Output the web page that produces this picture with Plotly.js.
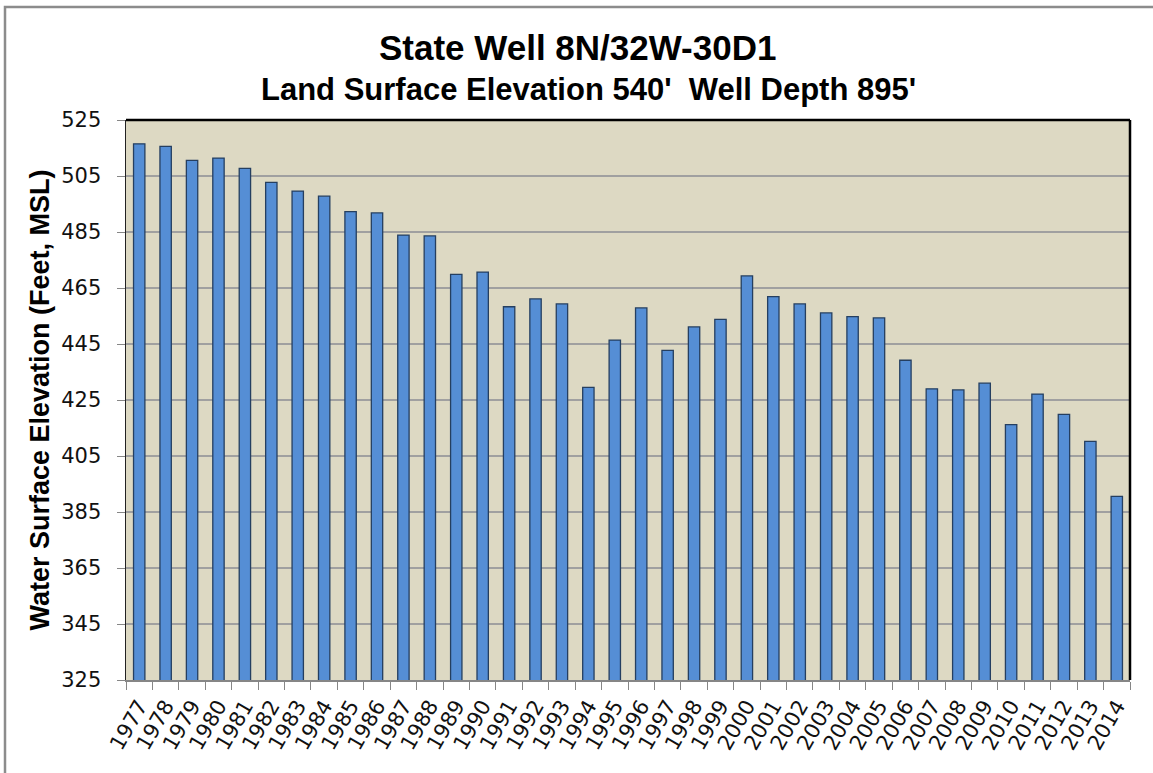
<!DOCTYPE html>
<html>
<head>
<meta charset="utf-8">
<script src="https://cdn.plot.ly/plotly-3.0.1.min.js"></script>
<style>
html,body{margin:0;padding:0;background:#fff;}
#chart{width:1153px;height:773px;}
</style>
</head>
<body>
<div id="chart"></div>
<script>
const years = ["1977","1978","1979","1980","1981","1982","1983","1984","1985","1986","1987","1988","1989","1990","1991","1992","1993","1994","1995","1996","1997","1998","1999","2000","2001","2002","2003","2004","2005","2006","2007","2008","2009","2010","2011","2012","2013","2014"];
const elevation = [516.5,515.6,510.6,511.4,507.7,502.7,499.6,497.8,492.3,491.8,483.9,483.6,469.9,470.7,458.3,461.1,459.3,429.5,446.4,457.9,442.7,451.1,453.8,469.3,461.9,459.3,456.1,454.8,454.3,439.2,429.0,428.6,431.0,416.2,427.1,419.9,410.2,390.6];
const yTicks = [325,345,365,385,405,425,445,465,485,505,525];
const titleText = "State Well 8N/32W-30D1";
const subtitleText = "Land Surface Elevation 540'  Well Depth 895'";
const yTitle = "Water Surface Elevation (Feet, MSL)";

const trace = {
  type: "bar",
  x: years,
  y: elevation,
  marker: {color: "#558ED5", line: {color: "#253F60", width: 1.3}},
  hoverinfo: "x+y"
};

const W = 1153, H = 773, ml = 126, mr = 23, mt = 120, mb = 93;
const pw = W - ml - mr, ph = H - mt - mb;

const layout = {
  width: W, height: H,
  margin: {l: ml, r: mr, t: mt, b: mb, pad: 0},
  paper_bgcolor: "#ffffff",
  plot_bgcolor: "#DDD9C3",
  bargap: 0.57,
  showlegend: false,
  font: {family: "DejaVu Sans, Verdana, sans-serif", color: "#000"},
  xaxis: {
    type: "category",
    tickson: "boundaries",
    ticks: "outside",
    ticklen: 8,
    tickcolor: "#868686",
    tickangle: -60,
    tickfont: {size: 21, family: "DejaVu Sans, sans-serif", color: "#111"},
    ticklabelstandoff: 4,
    showline: true, linecolor: "#868686", linewidth: 1.5,
    showgrid: false, zeroline: false
  },
  yaxis: {
    range: [325, 525],
    tickvals: yTicks,
    ticks: "outside",
    ticklen: 8,
    tickcolor: "#868686",
    tickfont: {size: 21, family: "DejaVu Sans, sans-serif", color: "#111"},
    ticklabelstandoff: 11,
    showline: true, linecolor: "#222", linewidth: 1.5,
    showgrid: true, gridcolor: "#A0A0A0", gridwidth: 1.3,
    zeroline: false,
    title: {text: yTitle, font: {size: 27, family: "Liberation Sans, Arial, sans-serif", weight: "bold"}, standoff: 4}
  },
  shapes: [
    {type: "line", xref: "paper", yref: "paper", x0: 0, x1: 1, y0: 1, y1: 1, line: {color: "#000", width: 2.5}},
    {type: "line", xref: "paper", yref: "paper", x0: 1, x1: 1, y0: 0, y1: 1, line: {color: "#000", width: 2.5}},
    {type: "rect", xref: "paper", yref: "paper",
     x0: (5 - ml) / pw, x1: (1170 - ml) / pw, y0: (H - mb - 790) / ph, y1: (H - mb - 7) / ph,
     line: {color: "#8C8C8C", width: 2.5}, fillcolor: "rgba(0,0,0,0)", layer: "below"}
  ],
  annotations: [
    {text: "<b>" + titleText + "</b>", xref: "paper", yref: "paper", x: (577 - ml) / pw, y: (H - mb - 47) / ph,
     showarrow: false, xanchor: "center", yanchor: "middle",
     font: {size: 35, family: "Liberation Sans, Arial, sans-serif", color: "#000"}},
    {text: "<b>" + subtitleText + "</b>", xref: "paper", yref: "paper", x: (588 - ml) / pw, y: (H - mb - 90) / ph,
     showarrow: false, xanchor: "center", yanchor: "middle",
     font: {size: 31, family: "Liberation Sans, Arial, sans-serif", color: "#000"}}
  ]
};

Plotly.newPlot("chart", [trace], layout, {displayModeBar: false, staticPlot: true});
</script>
</body>
</html>
